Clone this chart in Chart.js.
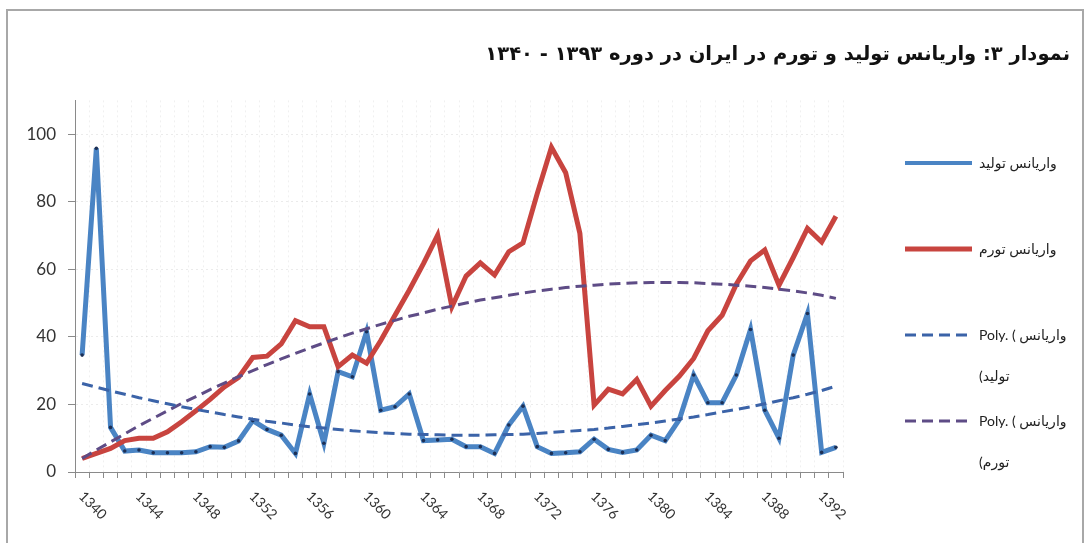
<!DOCTYPE html>
<html><head><meta charset="utf-8">
<script src="https://cdn.jsdelivr.net/npm/chart.js@4.4.1/dist/chart.umd.min.js"></script>
<style>
html,body{margin:0;padding:0;background:#fff;}
#wrap{position:relative;width:1089px;height:543px;overflow:hidden;background:#fff;}
#frame{position:absolute;left:6px;top:9px;width:1078px;height:548px;border:2px solid #a8a8a8;box-sizing:border-box;pointer-events:none;}
canvas{position:absolute;left:0;top:0;}
</style></head>
<body><div id="wrap"><canvas id="c" width="1089" height="543"></canvas><div id="frame"></div></div>
<script>
const years = ['1340','1341','1342','1343','1344','1345','1346','1347','1348','1349','1350','1351','1352','1353','1354','1355','1356','1357','1358','1359','1360','1361','1362','1363','1364','1365','1366','1367','1368','1369','1370','1371','1372','1373','1374','1375','1376','1377','1378','1379','1380','1381','1382','1383','1384','1385','1386','1387','1388','1389','1390','1391','1392','1393'];
const xTickLabels = ['1340','1344','1348','1352','1356','1360','1364','1368','1372','1376','1380','1384','1388','1392'];
const yTickValues = [0,20,40,60,80,100];

const productionVariance = [34.6,95.8,13.2,6.2,6.5,5.7,5.7,5.7,6.0,7.5,7.3,9.2,15.2,12.6,10.9,5.5,23.1,8.5,29.7,28.2,41.5,18.3,19.3,23.1,9.3,9.5,9.7,7.5,7.5,5.5,13.9,19.5,7.5,5.5,5.7,6.0,9.7,6.7,5.8,6.5,10.9,9.3,15.6,28.7,20.5,20.5,28.7,42.2,18.3,10.0,34.6,46.9,5.8,7.3];
const inflationVariance = [4.0,5.5,7.0,9.3,10.0,10.0,11.9,14.9,18.1,21.5,25.2,28.0,33.9,34.3,37.9,44.8,43.0,43.0,31.2,34.6,32.2,38.9,46.4,53.8,61.7,70.1,48.9,58.0,61.9,58.3,65.2,67.8,82.4,96.1,88.6,70.6,19.8,24.5,23.1,27.4,19.5,24.1,28.4,33.6,41.8,46.4,55.6,62.5,65.7,55.3,63.5,72.1,68.1,75.7];
const productionTrend = [26.2,25.1,24.0,23.0,22.0,21.1,20.2,19.3,18.5,17.8,17.0,16.3,15.6,15.0,14.5,13.9,13.4,13.0,12.6,12.2,11.9,11.6,11.4,11.2,11.1,11.0,10.9,10.9,10.9,11.0,11.1,11.2,11.4,11.7,12.0,12.3,12.6,13.0,13.5,14.0,14.5,15.1,15.7,16.3,17.0,17.8,18.5,19.3,20.2,21.1,22.0,23.0,24.1,25.4];
const inflationTrend = [4.0,6.5,8.9,11.3,13.7,15.9,18.1,20.3,22.3,24.4,26.3,28.2,30.0,31.8,33.5,35.1,36.7,38.2,39.7,41.1,42.4,43.7,44.9,46.1,47.1,48.2,49.1,50.0,50.9,51.6,52.3,53.0,53.6,54.1,54.6,55.0,55.3,55.6,55.8,56.0,56.1,56.1,56.1,56.0,55.8,55.6,55.3,55.0,54.6,54.1,53.6,53.0,52.3,51.4];

const seriesNames = ['واریانس تولید','واریانس تورم','Poly. (واریانس تولید)','Poly. (واریانس تورم)'];
const legendLines = [['واریانس تولید',''],['واریانس تورم',''],['Poly. ( واریانس','(تولید'],['Poly. ( واریانس','(تورم']];
const titleText = 'نمودار ۳: واریانس تولید و تورم در ایران در دوره ۱۳۹۳ - ۱۳۴۰';

const tickFont = "Lato, 'DejaVu Sans', sans-serif";

new Chart(document.getElementById('c'), {
  type: 'line',
  data: {
    labels: years,
    datasets: [
      {label: seriesNames[0], data: productionVariance, borderColor: '#4A84C4', backgroundColor: '#4A84C4', borderWidth: 5, pointRadius: 1.8, pointBackgroundColor: '#1C2F55', pointBorderWidth: 0, pointHoverRadius: 0, tension: 0, order: 2},
      {label: seriesNames[1], data: inflationVariance, borderColor: '#C8443F', backgroundColor: '#C8443F', borderWidth: 5, pointRadius: 0, tension: 0, order: 1},
      {label: seriesNames[2], data: productionTrend, borderColor: '#3B63A8', backgroundColor: '#3B63A8', borderWidth: 3, borderDash: [11,6], pointRadius: 0, tension: 0, order: 0},
      {label: seriesNames[3], data: inflationTrend, borderColor: '#5E4C86', backgroundColor: '#5E4C86', borderWidth: 3, borderDash: [11,6], pointRadius: 0, tension: 0, order: 0}
    ]
  },
  options: {
    responsive: false,
    animation: false,
    events: [],
    layout: {padding: {left: 0, right: 19, top: 0, bottom: 0}},
    plugins: {
      title: {
        display: true, text: titleText, align: 'end', color: '#111',
        font: {family: "'DejaVu Sans', sans-serif", size: 19.5, weight: 'bold', lineHeight: 1.2},
        padding: {top: 43, bottom: 34}
      },
      legend: {
        display: true, position: 'right', align: 'start', maxWidth: 169,
        title: {display: true, text: '', padding: 0, font: {size: 12, lineHeight: '152px'}},
        labels: {
          usePointStyle: true, pointStyle: 'line', pointStyleWidth: 67, boxHeight: 14,
          padding: 4, color: '#222',
          font: {family: tickFont, size: 14, lineHeight: '41px'},
          sort: (a, b) => a.datasetIndex - b.datasetIndex,
          generateLabels: (chart) => {
            const items = Chart.defaults.plugins.legend.labels.generateLabels(chart);
            items.forEach(it => {
              const ds = chart.data.datasets[it.datasetIndex];
              it.text = legendLines[it.datasetIndex];
              it.lineWidth = it.datasetIndex === 0 ? 4 : ds.borderWidth;
              it.strokeStyle = ds.borderColor;
              it.lineDash = ds.borderDash || [];
            });
            return items;
          }
        }
      },
      tooltip: {enabled: false}
    },
    scales: {
      x: {
        type: 'category', offset: true,
        grid: {display: true, offset: true, color: 'rgba(0,0,0,0.06)', tickColor: '#8a8a8a', tickLength: 6, lineWidth: 1},
        border: {display: true, color: '#8a8a8a', width: 1, dash: [2,3]},
        ticks: {
          autoSkip: false, minRotation: -45, maxRotation: -45, labelOffset: 22, padding: 33,
          color: '#333', font: {family: tickFont, size: 14},
          callback: function(val, idx) { const l = this.getLabelForValue(val); return xTickLabels.includes(l) ? l : ''; }
        },
        afterFit: (s) => { s.height = 71; }
      },
      y: {
        type: 'linear', position: 'left', min: 0, max: 110,
        grid: {display: true, color: 'rgba(0,0,0,0.08)', tickColor: '#8a8a8a', tickLength: 7},
        border: {display: true, color: '#8a8a8a', width: 1, dash: [2,3]},
        ticks: {stepSize: 20, padding: 12, color: '#333', font: {family: tickFont, size: 17}},
        afterBuildTicks: (s) => { s.ticks = yTickValues.map(v => ({value: v})); },
        afterFit: (s) => { s.width = 75; }
      },
      gap: {
        type: 'linear', position: 'right', display: true,
        grid: {display: false, drawTicks: false}, ticks: {display: false}, border: {display: false},
        afterFit: (s) => { s.width = 58; }
      }
    }
  }
});
</script>
</body></html>
